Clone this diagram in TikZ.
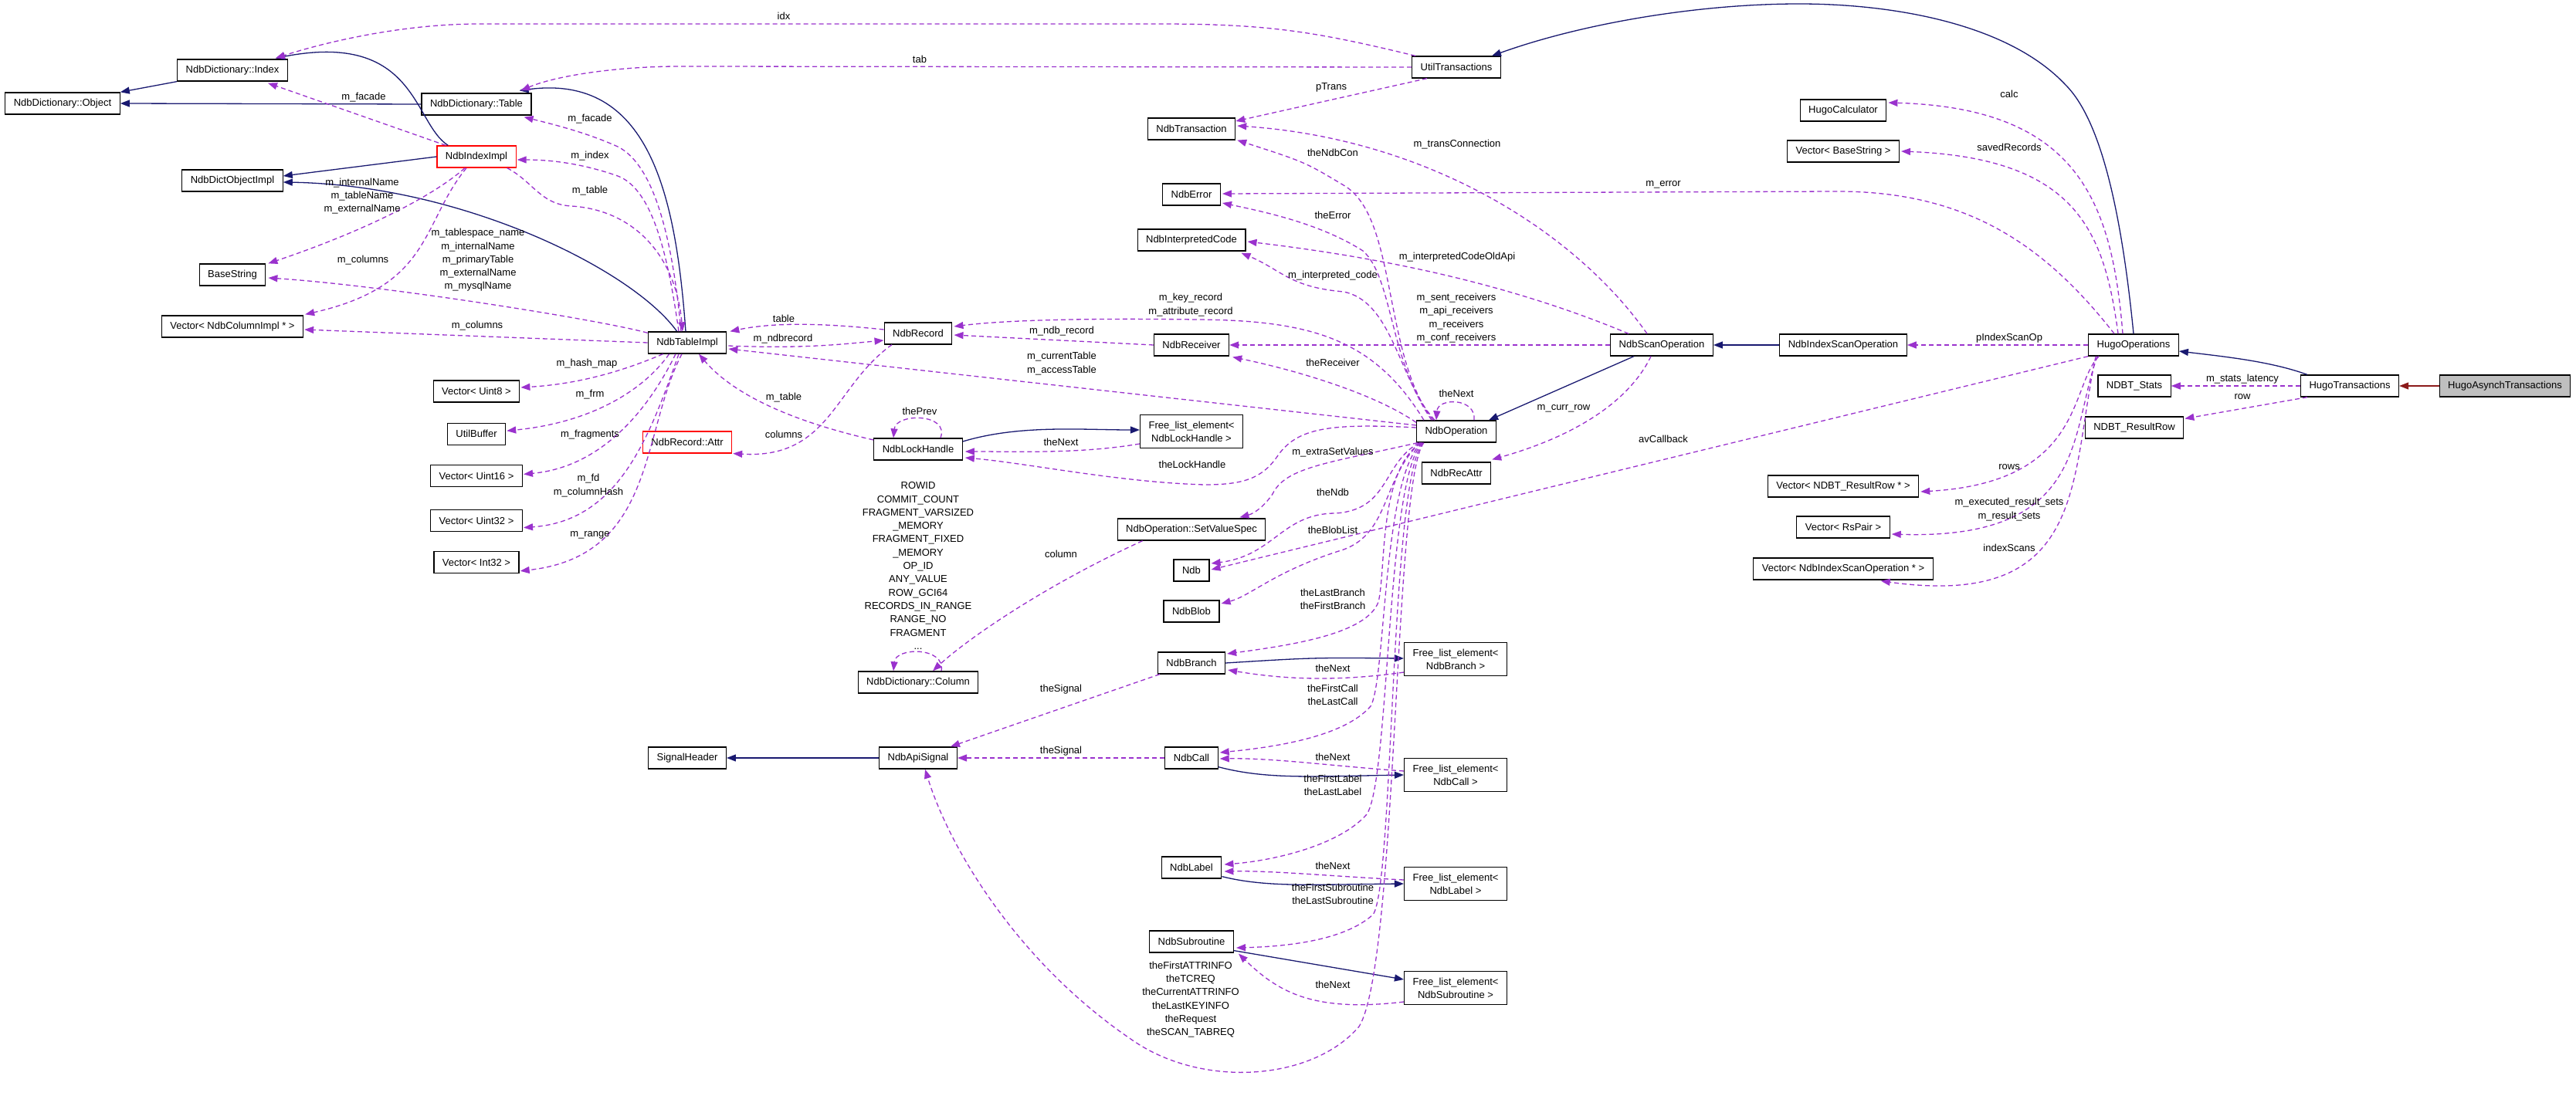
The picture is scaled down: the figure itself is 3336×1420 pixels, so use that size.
\documentclass[tikz,border=0pt]{standalone}
\usepackage{fontspec}
\setmainfont{Liberation Sans}
\usetikzlibrary{arrows.meta,positioning,calc}
\definecolor{inhblue}{HTML}{191970}
\definecolor{relpurple}{HTML}{9A32CD}
\definecolor{privred}{HTML}{8B1A1A}
\definecolor{focusgray}{HTML}{BFBFBF}
\begin{document}
\begin{tikzpicture}[x=1pt,y=-1pt,
  cls/.style={rectangle,draw=black,fill=white,line width=1.2pt,
    font=\fontsize{13}{17}\selectfont,align=center,inner xsep=11pt,inner ysep=8pt,minimum height=28pt},
  trunc/.style={cls,draw=red},
  mainbox/.style={cls,fill=focusgray},
  lbl/.style={font=\fontsize{13}{17.3}\selectfont,align=center,inner sep=0pt},
  inh/.style={-{Triangle[length=12pt,width=9pt]},color=inhblue,line width=1.3pt},
  priv/.style={inh,color=privred},
  rel/.style={-{Triangle[length=12pt,width=9pt]},color=relpurple,line width=1.3pt,dash pattern=on 6pt off 4pt}]
  \useasboundingbox (0,0) rectangle (3336,1420);
  % classes
  \node[cls] (obj) at (81,134) {NdbDictionary::Object};
  \node[cls] (idx) at (301,91) {NdbDictionary::Index};
  \node[cls] (tbl) at (617,135) {NdbDictionary::Table};
  \node[trunc] (idximpl) at (617,203) {NdbIndexImpl};
  \node[cls] (dictobj) at (301,234) {NdbDictObjectImpl};
  \node[cls] (bstr) at (301,356) {BaseString};
  \node[cls] (veccol) at (301,423) {Vector< NdbColumnImpl * >};
  \node[cls] (tblimpl) at (890,444) {NdbTableImpl};
  \node[cls] (vu8) at (617,507) {Vector< Uint8 >};
  \node[cls,below=26pt of vu8] (ubuf) {UtilBuffer};
  \node[cls,below=25pt of ubuf] (vu16) {Vector< Uint16 >};
  \node[cls,below=29pt of vu16] (vu32) {Vector< Uint32 >};
  \node[cls,below=25pt of vu32] (vi32) {Vector< Int32 >};
  \node[trunc] (attr) at (890,573) {NdbRecord::Attr};
  \node[cls] (rec) at (1189,432) {NdbRecord};
  \node[cls] (lock) at (1189,582) {NdbLockHandle};
  \node[cls] (col) at (1189,884) {NdbDictionary::Column};
  \node[cls] (sighdr) at (890,982) {SignalHeader};
  \node[cls] (apisig) at (1189,982) {NdbApiSignal};
  \node[cls] (trans) at (1543,167) {NdbTransaction};
  \node[cls] (err) at (1543,252) {NdbError};
  \node[cls] (icode) at (1543,311) {NdbInterpretedCode};
  \node[cls] (recv) at (1543,447) {NdbReceiver};
  \node[cls] (fllock) at (1543,559) {Free\_list\_element<\\NdbLockHandle >};
  \node[cls] (svs) at (1543,686) {NdbOperation::SetValueSpec};
  \node[cls] (ndb) at (1543,739) {Ndb};
  \node[cls] (blob) at (1543,792) {NdbBlob};
  \node[cls] (branch) at (1543,859) {NdbBranch};
  \node[cls] (ndbcall) at (1543,982) {NdbCall};
  \node[cls] (ndblabel) at (1543,1124) {NdbLabel};
  \node[cls] (sub) at (1543,1220) {NdbSubroutine};
  \node[cls] (util) at (1886,87) {UtilTransactions};
  \node[cls] (op) at (1886,559) {NdbOperation};
  \node[cls] (recattr) at (1886,613) {NdbRecAttr};
  \node[cls] (flbranch) at (1885,854) {Free\_list\_element<\\NdbBranch >};
  \node[cls] (flcall) at (1885,1004) {Free\_list\_element<\\NdbCall >};
  \node[cls] (fllabel) at (1885,1145) {Free\_list\_element<\\NdbLabel >};
  \node[cls] (flsub) at (1885,1280) {Free\_list\_element<\\NdbSubroutine >};
  \node[cls] (scan) at (2152,447) {NdbScanOperation};
  \node[cls] (hcalc) at (2387,143) {HugoCalculator};
  \node[cls] (vbs) at (2387,196) {Vector< BaseString >};
  \node[cls] (iscan) at (2387,447) {NdbIndexScanOperation};
  \node[cls] (vrr) at (2387,630) {Vector< NDBT\_ResultRow * >};
  \node[cls] (vrs) at (2387,683) {Vector< RsPair >};
  \node[cls] (vis) at (2387,737) {Vector< NdbIndexScanOperation * >};
  \node[cls] (hugoop) at (2763,447) {HugoOperations};
  \node[cls] (stats) at (2764,500) {NDBT\_Stats};
  \node[cls] (resrow) at (2764,554) {NDBT\_ResultRow};
  \node[cls] (hugotr) at (3043,500) {HugoTransactions};
  \node[mainbox] (hugoasync) at (3244,500) {HugoAsynchTransactions};
  % inheritance
  \draw[inh] (idx.south west) -- (obj.north east);
  \draw[inh] (tbl.west) -- (obj.east);
  \draw[inh] ($(idximpl.north west)+(15,0)$) .. controls (535,160) and (540,40) .. ($(idx.north east)+(-16,-1)$);
  \draw[inh] (idximpl.west) -- ($(dictobj.east)+(0,-6)$);
  \draw[inh] ($(tblimpl.north west)+(38,0)$) .. controls (820,350) and (600,240) .. ($(dictobj.east)+(0,2)$);
  \draw[inh] ($(tblimpl.north)+(-2,0)$) .. controls (875,250) and (840,95) .. ($(tbl.north east)+(-16,-3)$);
  \draw[inh] ($(lock.east)+(0,-10)$) .. controls (1320,550) and (1400,557) .. ($(fllock.west)+(0,-2)$);
  \draw[inh] ($(scan.south)+(-36,0)$) -- ($(op.north east)+(-10,0)$);
  \draw[inh] (iscan.west) -- (scan.east);
  \draw[inh] (hugoop.north) .. controls (2745,250) and (2715,150) .. (2675,110) .. controls (2600,30) and (2450,5) .. (2330,5) .. controls (2200,5) and (2050,30) .. ($(util.north east)+(-12,0)$);
  \draw[inh] ($(hugotr.north west)+(9,0)$) .. controls (2940,468) and (2880,462) .. ($(hugoop.east)+(0,8)$);
  \draw[priv] (hugoasync.west) -- (hugotr.east);
  \draw[inh] (apisig.west) -- (sighdr.east);
  \draw[inh] (branch.east) .. controls (1700,852) .. ($(flbranch.west)+(0,-1)$);
  \draw[inh] ($(ndbcall.south east)+(0,-3)$) .. controls (1640,1010) and (1700,1006) .. (flcall.west);
  \draw[inh] ($(ndblabel.south east)+(0,-3)$) .. controls (1640,1150) and (1700,1146) .. (fllabel.west);
  \draw[inh] ($(sub.south east)+(0,-3)$) -- ($(flsub.west)+(0,-11)$);
  % members
  \draw[rel] ($(util.north west)+(5,0)$) .. controls (1700,40) and (1640,31) .. (1500,31) -- (620,31) .. controls (520,31) and (420,55) .. ($(idx.north east)+(-16,-1)$);
  \draw[rel] (util.west) -- (880,86) .. controls (800,86) and (720,98) .. ($(tbl.north east)+(-14,-3)$);
  \draw[rel] ($(util.south west)+(20,0)$) -- ($(trans.east)+(0,-10)$);
  \draw[rel] ($(op.north)+(-30,0)$) .. controls (1790,460) and (1810,280) .. (1740,240) .. controls (1690,210) .. ($(trans.south east)+(2,0)$);
  \draw[rel] ($(op.north)+(-28,0)$) .. controls (1800,480) and (1805,360) .. (1765,325) .. controls (1710,290) and (1640,275) .. ($(err.east)+(2,11)$);
  \draw[rel] ($(op.north)+(-32,0)$) .. controls (1810,480) and (1800,390) .. (1740,378) .. controls (1670,372) and (1660,350) .. ($(icode.south east)+(-6,2)$);
  \draw[rel] ($(scan.north west)+(24,0)$) .. controls (1960,370) and (1800,335) .. ($(icode.east)+(2,2)$);
  \draw[rel] ($(scan.north)+(-19,0)$) .. controls (2040,300) and (1850,180) .. ($(trans.east)+(2,-4)$);
  \draw[rel] (scan.west) -- (recv.east);
  \draw[rel] ($(op.north west)+(0,3)$) .. controls (1780,510) and (1680,480) .. ($(recv.south east)+(4,1)$);
  \draw[rel] ($(op.north west)+(10,0)$) .. controls (1780,440) and (1700,415) .. (1550,414) .. controls (1400,412) and (1300,415) .. ($(rec.east)+(2,-9)$);
  \draw[rel] (recv.west) -- ($(rec.east)+(2,2)$);
  \draw[rel] ($(op.west)+(0,-8)$) -- ($(tblimpl.east)+(2,8)$);
  \draw[rel] ($(op.west)+(0,-5)$) .. controls (1720,548) and (1680,555) .. (1655,590) .. controls (1635,620) and (1610,628) .. (1560,628) .. controls (1450,625) and (1330,600) .. ($(lock.east)+(3,11)$);
  \draw[rel] ($(fllock.west)+(0,16)$) .. controls (1400,588) and (1320,585) .. ($(lock.east)+(3,3)$);
  \draw[rel] ($(lock.north)+(29,0)$) .. controls (1230,535) and (1160,535) .. ($(lock.north)+(-32,0)$);
  \draw[rel] ($(lock.west)+(0,-12)$) .. controls (1000,540) and (940,500) .. ($(tblimpl.south)+(15,0)$);
  \draw[rel] ($(rec.south)+(-34,0)$) .. controls (1080,500) and (1075,595) .. ($(attr.south east)+(1,0)$);
  \draw[rel] ($(tblimpl.east)+(2,4)$) .. controls (1040,452) and (1090,446) .. ($(rec.west)+(0,9)$);
  \draw[rel] ($(rec.west)+(0,-5)$) .. controls (1060,418) and (1000,418) .. ($(tblimpl.north east)+(4,0)$);
  \draw[rel] ($(tblimpl.north)+(-8,0)$) .. controls (872,320) and (850,215) .. (800,190) .. controls (760,172) and (720,162) .. ($(tbl.south east)+(-10,2)$);
  \draw[rel] ($(tblimpl.north)+(-11,0)$) .. controls (865,330) and (845,245) .. (800,228) .. controls (760,214) and (720,207) .. ($(idximpl.east)+(1,4)$);
  \draw[rel] ($(idximpl.south east)+(-12,0)$) .. controls (690,235) and (700,265) .. (740,267) .. controls (820,272) and (875,330) .. ($(tblimpl.north)+(-6,0)$);
  \draw[rel] ($(idximpl.north west)+(12,0)$) -- ($(idx.south east)+(-26,2)$);
  \draw[rel] ($(idximpl.south)+(-15,0)$) .. controls (560,255) and (470,300) .. ($(bstr.north east)+(3,0)$);
  \draw[rel] ($(idximpl.south)+(-13,0)$) .. controls (545,290) and (560,370) .. ($(veccol.north east)+(2,-1)$);
  \draw[rel] ($(tblimpl.north west)+(0,2)$) .. controls (780,415) and (500,370) .. ($(bstr.east)+(3,4)$);
  \draw[rel] (tblimpl.west) -- ($(veccol.east)+(1,4)$);
  \draw[rel] ($(tblimpl.south west)+(20,0)$) .. controls (820,475) and (760,497) .. ($(vu8.east)+(1,-5)$);
  \draw[rel] ($(tblimpl.south west)+(28,0)$) .. controls (830,510) and (760,548) .. ($(ubuf.east)+(1,-4)$);
  \draw[rel] ($(tblimpl.south)+(-15,0)$) .. controls (840,530) and (780,605) .. ($(vu16.east)+(1,-2)$);
  \draw[rel] ($(tblimpl.south)+(-11,0)$) .. controls (840,570) and (800,675) .. ($(vu32.east)+(1,9)$);
  \draw[rel] ($(tblimpl.south)+(-7,0)$) .. controls (830,560) and (850,720) .. ($(vi32.east)+(1,11)$);
  \draw[rel] ($(op.south west)+(2,0)$) .. controls (1720,600) and (1665,605) .. (1648,640) .. controls (1638,655) and (1625,665) .. ($(svs.north east)+(-34,-1)$);
  \draw[rel] ($(op.south west)+(4,0)$) .. controls (1790,600) and (1800,660) .. (1730,665) .. controls (1660,665) and (1650,720) .. ($(ndb.east)+(2,-9)$);
  \draw[rel] (hugoop.south west) -- ($(ndb.east)+(2,-1)$);
  \draw[rel] ($(op.south west)+(5,0)$) .. controls (1790,620) and (1800,690) .. (1740,712) .. controls (1650,740) and (1620,772) .. ($(blob.east)+(2,-10)$);
  \draw[rel] ($(op.south west)+(6,0)$) .. controls (1785,610) and (1795,740) .. (1785,780) .. controls (1770,820) and (1680,835) .. ($(branch.east)+(2,-12)$);
  \draw[rel] ($(op.south west)+(7,0)$) .. controls (1790,620) and (1795,880) .. (1775,915) .. controls (1740,955) and (1650,968) .. ($(ndbcall.east)+(2,-7)$);
  \draw[rel] ($(op.south west)+(8,0)$) .. controls (1795,620) and (1800,1010) .. (1770,1055) .. controls (1735,1095) and (1650,1115) .. ($(ndblabel.east)+(3,-4)$);
  \draw[rel] ($(op.south west)+(9,0)$) .. controls (1800,620) and (1805,1150) .. (1778,1185) .. controls (1745,1215) and (1680,1226) .. ($(sub.east)+(3,8)$);
  \draw[rel] ($(op.south west)+(10,0)$) .. controls (1805,620) and (1810,1250) .. (1760,1330) .. controls (1700,1400) and (1560,1410) .. (1470,1350) .. controls (1320,1250) and (1230,1100) .. ($(apisig.south)+(9,0)$);
  \draw[rel] ($(flbranch.west)+(0,17)$) .. controls (1720,885) and (1650,878) .. ($(branch.east)+(3,9)$);
  \draw[rel] ($(flcall.west)+(0,-5)$) .. controls (1720,992) and (1650,982) .. ($(ndbcall.east)+(2,1)$);
  \draw[rel] ($(fllabel.west)+(0,-5)$) .. controls (1720,1135) and (1650,1128) .. ($(ndblabel.east)+(3,5)$);
  \draw[rel] ($(flsub.west)+(0,18)$) .. controls (1700,1312) and (1655,1285) .. ($(sub.south east)+(6,1)$);
  \draw[rel] ($(branch.south west)+(3,0)$) -- ($(apisig.north east)+(-9,0)$);
  \draw[rel] (ndbcall.west) -- (apisig.east);
  \draw[rel] ($(svs.south west)+(33,0)$) .. controls (1350,760) and (1250,830) .. ($(col.north)+(19,0)$);
  \draw[rel] ($(col.north)+(30,0)$) .. controls (1225,838) and (1160,838) .. ($(col.north)+(-32,0)$);
  \draw[rel] ($(op.north)+(23,0)$) .. controls (1912,515) and (1862,515) .. ($(op.north)+(-26,0)$);
  \draw[rel] ($(scan.south)+(-14,0)$) .. controls (2110,520) and (2040,565) .. ($(recattr.north east)+(1,-3)$);
  \draw[rel] ($(hugoop.north)+(-14,0)$) .. controls (2735,260) and (2690,140) .. ($(hcalc.east)+(2,-10)$);
  \draw[rel] ($(hugoop.north)+(-20,0)$) .. controls (2725,300) and (2690,205) .. ($(vbs.east)+(2,0)$);
  \draw[rel] ($(hugoop.north)+(-25,0)$) .. controls (2650,320) and (2550,248) .. (2380,248) -- ($(err.east)+(2,-1)$);
  \draw[rel] (hugoop.west) -- (iscan.east);
  \draw[rel] ($(hugoop.south west)+(14,0)$) .. controls (2680,500) and (2700,625) .. ($(vrr.east)+(2,7)$);
  \draw[rel] ($(hugoop.south west)+(12,0)$) .. controls (2680,560) and (2705,700) .. ($(vrs.east)+(2,9)$);
  \draw[rel] ($(hugoop.south west)+(10,0)$) .. controls (2680,620) and (2705,790) .. ($(vis.south east)+(-68,1)$);
  \draw[rel] (hugotr.west) -- (stats.east);
  \draw[rel] ($(hugotr.south west)+(9,0)$) -- ($(resrow.north east)+(1,3)$);
  % labels
  \node[lbl] (l-idx) at (1015,21) {idx};
  \node[lbl] (l-tab) at (1191,77) {tab};
  \node[lbl] (l-ptrans) at (1724,113) {pTrans};
  \node[lbl] (l-ifac) at (471,126) {m\_facade};
  \node[lbl] (l-tfac) at (764,154) {m\_facade};
  \node[lbl] (l-tidx) at (764,202) {m\_index};
  \node[lbl] (l-itbl) at (764,247) {m\_table};
  \node[lbl] (l-inames) at (469,254) {m\_internalName\\m\_tableName\\m\_externalName};
  \node[lbl] (l-tnames) at (619,337) {m\_tablespace\_name\\m\_internalName\\m\_primaryTable\\m\_externalName\\m\_mysqlName};
  \node[lbl] (l-icols) at (470,337) {m\_columns};
  \node[lbl] (l-tcols) at (618,422) {m\_columns};
  \node[lbl] (l-hash) at (760,471) {m\_hash\_map};
  \node[lbl] (l-frm) at (764,511) {m\_frm};
  \node[lbl] (l-frag) at (764,563) {m\_fragments};
  \node[lbl] (l-fd) at (762,629) {m\_fd\\m\_columnHash};
  \node[lbl] (l-range) at (764,693) {m\_range};
  \node[lbl] (l-table) at (1015,413) {table};
  \node[lbl] (l-ndbrec) at (1014,439) {m\_ndbrecord};
  \node[lbl] (l-keyrec) at (1542,395) {m\_key\_record\\m\_attribute\_record};
  \node[lbl] (l-recvrec) at (1375,429) {m\_ndb\_record};
  \node[lbl] (l-curtbl) at (1375,471) {m\_currentTable\\m\_accessTable};
  \node[lbl] (l-locktbl) at (1015,515) {m\_table};
  \node[lbl] (l-cols) at (1015,563) {columns};
  \node[lbl] (l-prev) at (1191,533) {thePrev};
  \node[lbl] (l-locknext) at (1374,573) {theNext};
  \node[lbl] (l-lockh) at (1544,602) {theLockHandle};
  \node[lbl] (l-rowid) at (1189,733) {ROWID\\COMMIT\_COUNT\\FRAGMENT\_VARSIZED\\\_MEMORY\\FRAGMENT\_FIXED\\\_MEMORY\\OP\_ID\\ANY\_VALUE\\ROW\_GCI64\\RECORDS\_IN\_RANGE\\RANGE\_NO\\FRAGMENT\\...};
  \node[lbl] (l-column) at (1374,718) {column};
  \node[lbl] (l-bsig) at (1374,893) {theSignal};
  \node[lbl] (l-csig) at (1374,973) {theSignal};
  \node[lbl] (l-ndbcon) at (1726,198) {theNdbCon};
  \node[lbl] (l-transc) at (1887,187) {m\_transConnection};
  \node[lbl] (l-merr) at (2154,239) {m\_error};
  \node[lbl] (l-theerr) at (1726,279) {theError};
  \node[lbl] (l-oldapi) at (1887,333) {m\_interpretedCodeOldApi};
  \node[lbl] (l-icode) at (1726,357) {m\_interpreted\_code};
  \node[lbl] (l-recvs) at (1886,412) {m\_sent\_receivers\\m\_api\_receivers\\m\_receivers\\m\_conf\_receivers};
  \node[lbl] (l-recv) at (1726,470) {theReceiver};
  \node[lbl] (l-opnext) at (1886,510) {theNext};
  \node[lbl] (l-currow) at (2025,529) {m\_curr\_row};
  \node[lbl] (l-avcb) at (2154,569) {avCallback};
  \node[lbl] (l-extra) at (1726,586) {m\_extraSetValues};
  \node[lbl] (l-ndb) at (1726,638) {theNdb};
  \node[lbl] (l-blob) at (1726,687) {theBlobList};
  \node[lbl] (l-branch) at (1726,776) {theLastBranch\\theFirstBranch};
  \node[lbl] (l-bnext) at (1726,866) {theNext};
  \node[lbl] (l-call) at (1726,900) {theFirstCall\\theLastCall};
  \node[lbl] (l-cnext) at (1726,981) {theNext};
  \node[lbl] (l-label) at (1726,1017) {theFirstLabel\\theLastLabel};
  \node[lbl] (l-lnext) at (1726,1122) {theNext};
  \node[lbl] (l-sub) at (1726,1158) {theFirstSubroutine\\theLastSubroutine};
  \node[lbl] (l-snext) at (1726,1276) {theNext};
  \node[lbl] (l-attrinfo) at (1542,1295) {theFirstATTRINFO\\theTCREQ\\theCurrentATTRINFO\\theLastKEYINFO\\theRequest\\theSCAN\_TABREQ};
  \node[lbl] (l-calc) at (2602,122) {calc};
  \node[lbl] (l-saved) at (2602,191) {savedRecords};
  \node[lbl] (l-piscan) at (2602,438) {pIndexScanOp};
  \node[lbl] (l-stats) at (2904,491) {m\_stats\_latency};
  \node[lbl] (l-row) at (2904,514) {row};
  \node[lbl] (l-rows) at (2602,605) {rows};
  \node[lbl] (l-rsets) at (2602,660) {m\_executed\_result\_sets\\m\_result\_sets};
  \node[lbl] (l-iscans) at (2602,710) {indexScans};
\end{tikzpicture}
\end{document}
